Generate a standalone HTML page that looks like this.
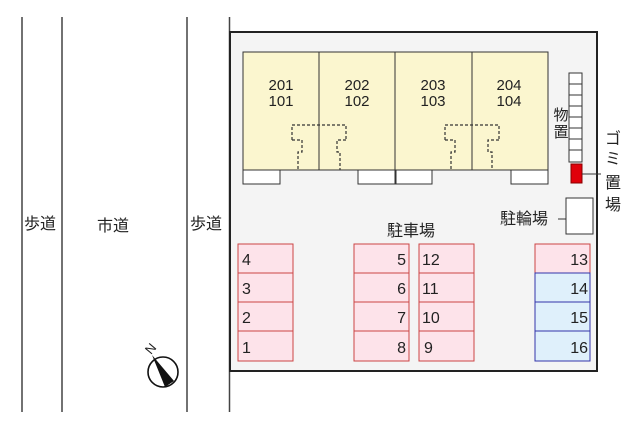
<!DOCTYPE html>
<html><head><meta charset="utf-8"><style>
html,body{margin:0;padding:0;background:#fff;}
svg{display:block;}
text{font-family:"Liberation Sans","Noto Sans CJK JP",sans-serif;fill:#222;}
</style></head><body>
<svg width="640" height="427" viewBox="0 0 640 427" xmlns="http://www.w3.org/2000/svg">
<g stroke="#444" stroke-width="1.5">
<line x1="22" y1="17" x2="22" y2="412"/>
<line x1="62" y1="17" x2="62" y2="412"/>
<line x1="187" y1="17" x2="187" y2="412"/>
<line x1="229.5" y1="17" x2="229.5" y2="412"/>
</g>
<rect x="230" y="32" width="367" height="339" fill="#f4f4f4" stroke="#222" stroke-width="2"/>
<g font-size="16">
<text x="24" y="229">歩道</text>
<text x="97" y="231">市道</text>
<text x="190" y="229">歩道</text>
</g>
<rect x="243" y="52" width="305" height="118" fill="#fbf6cf" stroke="#333" stroke-width="1"/>
<g stroke="#333" stroke-width="1"><line x1="319" y1="52" x2="319" y2="170"/><line x1="395" y1="52" x2="395" y2="170"/><line x1="472" y1="52" x2="472" y2="170"/></g>
<g fill="#fff" stroke="#333" stroke-width="1">
<rect x="243" y="170" width="37" height="14"/><rect x="358" y="170" width="37" height="14"/>
<rect x="396" y="170" width="36" height="14"/><rect x="511" y="170" width="37" height="14"/>
</g>
<g stroke="#333" stroke-width="1.2" stroke-dasharray="3,2" fill="none">
<path d="M292 140 V125 H346 V140"/><path d="M292 140 H302 V152 H298 V170"/><path d="M346 140 H337 V152 H340 V170"/>
<path d="M445 140 V125 H499 V140"/><path d="M445 140 H455 V152 H451 V170"/><path d="M499 140 H488 V152 H492 V170"/>
</g>
<g font-size="15" text-anchor="middle">
<text x="281" y="90">201</text><text x="281" y="106">101</text>
<text x="357" y="90">202</text><text x="357" y="106">102</text>
<text x="433" y="90">203</text><text x="433" y="106">103</text>
<text x="509" y="90">204</text><text x="509" y="106">104</text>
</g>
<g fill="#fff" stroke="#333" stroke-width="1">
<rect x="569" y="73" width="13" height="11"/><rect x="569" y="84" width="13" height="11"/>
<rect x="569" y="95" width="13" height="11"/><rect x="569" y="106" width="13" height="11"/>
<rect x="569" y="117" width="13" height="11"/><rect x="569" y="128" width="13" height="11"/>
<rect x="569" y="139" width="13" height="11"/><rect x="569" y="150" width="13" height="12"/>
</g>
<g font-size="15" text-anchor="middle"><text x="561" y="120">物</text><text x="561" y="137">置</text></g>
<rect x="571" y="164" width="11" height="19" fill="#e0000a" stroke="#800" stroke-width="1"/>
<line x1="582" y1="174" x2="601" y2="174" stroke="#333"/>
<g font-size="16" text-anchor="middle"><text x="613" y="144">ゴ</text><text x="613" y="164">ミ</text><text x="613" y="188">置</text><text x="613" y="210">場</text></g>
<rect x="566" y="198" width="27" height="36" fill="#fff" stroke="#333" stroke-width="1"/>
<line x1="558" y1="219" x2="566" y2="219" stroke="#333"/>
<text x="500" y="224" font-size="16">駐輪場</text>
<text x="387" y="236" font-size="16">駐車場</text>
<g stroke="#c44" stroke-width="1" fill="#fde3ea">
<rect x="238" y="244" width="55" height="29"/><rect x="238" y="273" width="55" height="29"/><rect x="238" y="302" width="55" height="29"/><rect x="238" y="331" width="55" height="30"/>
<rect x="354" y="244" width="55" height="29"/><rect x="354" y="273" width="55" height="29"/><rect x="354" y="302" width="55" height="29"/><rect x="354" y="331" width="55" height="30"/>
<rect x="419" y="244" width="55" height="29"/><rect x="419" y="273" width="55" height="29"/><rect x="419" y="302" width="55" height="29"/><rect x="419" y="331" width="55" height="30"/>
<rect x="535" y="244" width="55" height="29"/>
</g>
<g stroke="#33a" stroke-width="1" fill="#dff0fb">
<rect x="535" y="273" width="55" height="29"/><rect x="535" y="302" width="55" height="29"/><rect x="535" y="331" width="55" height="30"/>
</g>
<g font-size="16">
<text x="242" y="265">4</text><text x="242" y="294">3</text><text x="242" y="323">2</text><text x="242" y="353">1</text>
<text x="422" y="265">12</text><text x="422" y="294">11</text><text x="422" y="323">10</text><text x="424" y="353">9</text>
</g>
<g font-size="16" text-anchor="end">
<text x="406" y="265">5</text><text x="406" y="294">6</text><text x="406" y="323">7</text><text x="406" y="353">8</text>
<text x="588" y="265">13</text><text x="588" y="294">14</text><text x="588" y="323">15</text><text x="588" y="353">16</text>
</g>
<circle cx="163" cy="372" r="15" fill="#fff" stroke="#111" stroke-width="1.6"/>
<polygon points="152,355 174,381 165,387" fill="#111"/>
<text x="151" y="353" font-size="13" transform="rotate(-50 151 349)" text-anchor="middle">N</text>
</svg>
</body></html>
